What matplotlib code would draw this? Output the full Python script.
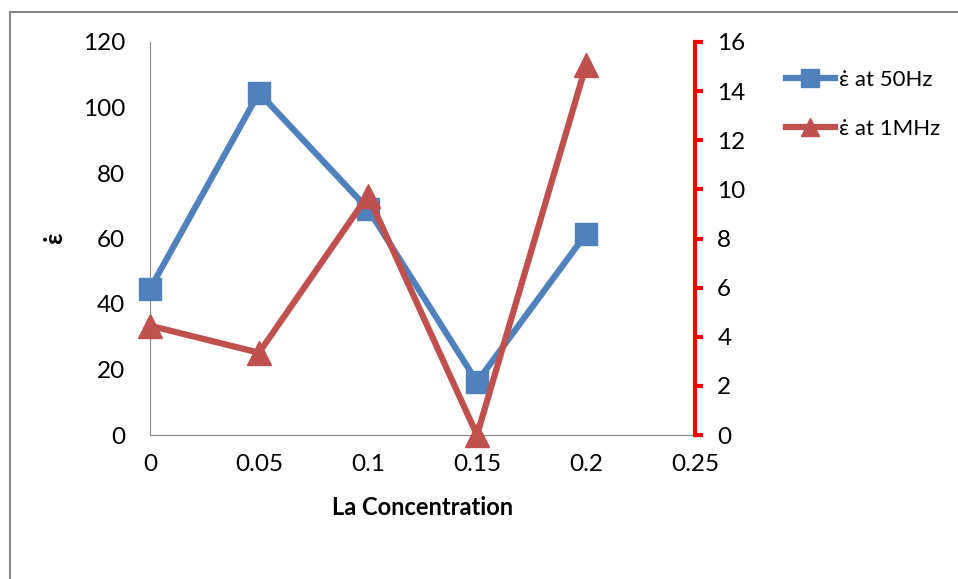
import matplotlib.pyplot as plt
import matplotlib.lines as mlines

plt.rcParams['font.family'] = ['Lato', 'DejaVu Sans']

# La content and permittivity at the two frequencies
la_conc = [0, 0.05, 0.1, 0.15, 0.2]
eps_50hz = [44.6, 104.5, 69, 16.2, 61.4]
eps_1mhz = [4.45, 3.35, 9.75, 0, 15.05]

blue = '#4f81bd'
red = '#c0504d'

fig = plt.figure(figsize=(9.58, 5.79), dpi=100)
ax = fig.add_axes([150/958, 1 - 435/579, 545/958, 393/579])
ax2 = ax.twinx()

l1, = ax.plot(la_conc, eps_50hz, color=blue, lw=4.5, marker='s', ms=16,
              label='ε̇ at 50Hz', zorder=3, clip_on=False)
l2, = ax2.plot(la_conc, eps_1mhz, color=red, lw=4.5, marker='^', ms=17,
               label='ε̇ at 1MHz', zorder=3, clip_on=False)

ax.set_xlim(0, 0.25)
ax.set_ylim(0, 120)
ax2.set_ylim(0, 16)
ax.set_xticks([0, 0.05, 0.1, 0.15, 0.2, 0.25])
ax.set_xticklabels(['0', '0.05', '0.1', '0.15', '0.2', '0.25'])
ax.set_yticks(range(0, 121, 20))
ax2.set_yticks(range(0, 17, 2))

for s in ['top', 'right']:
    ax.spines[s].set_visible(False)
for s in ['top', 'left', 'bottom']:
    ax2.spines[s].set_visible(False)
ax.spines['left'].set_color('#868686')
ax.spines['bottom'].set_color('#868686')
ax2.spines['right'].set_color('#ff0000')
ax2.spines['right'].set_linewidth(3)

ax.tick_params(axis='x', length=0, labelsize=17.5, pad=14)
ax.tick_params(axis='y', length=0, labelsize=17.5, pad=18)
ax2.tick_params(axis='y', colors='#ff0000', labelcolor='black', length=6,
                width=3, labelsize=17.5, pad=10)

ax.set_xlabel('La Concentration', fontsize=17, fontweight='bold', labelpad=15)
ax.set_ylabel('ε̇', fontsize=18, fontweight='bold', labelpad=12)

fig.legend(handles=[l1, l2], loc='upper left', bbox_to_anchor=(766/958, 1 - 50/579),
           frameon=False, fontsize=16, handlelength=2.2, handletextpad=0.2,
           labelspacing=1.3, markerscale=0.8)

# chart area border (top and left edges show)
fig.add_artist(mlines.Line2D([10/958, 1], [1 - 12/579, 1 - 12/579], color='#868686', lw=1.5))
fig.add_artist(mlines.Line2D([10/958, 10/958], [0, 1 - 12/579], color='#868686', lw=1.5))

fig.savefig('out.png', dpi=100)
